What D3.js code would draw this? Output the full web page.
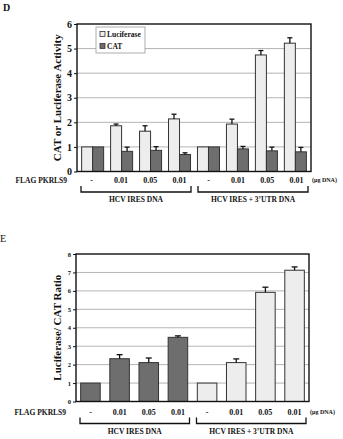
<!DOCTYPE html>
<html lang="en">
  <head>
    <meta charset="UTF-8" />
    <title>PKRLS9 luciferase / CAT</title>
    <script src="https://d3js.org/d3.v7.min.js"></script>
    <style>
      body {
        margin: 0;
        background: #fff;
      }
      text {
        font-family: 'Liberation Serif', 'Times New Roman', serif;
        font-weight: 700;
        fill: #111;
      }
      .grid line {
        stroke: #b4b4b4;
        stroke-width: 1px;
      }
      .frame {
        fill: none;
        stroke: #111;
        stroke-width: 1.4px;
      }
      .bar {
        stroke: #333;
        stroke-width: 1px;
      }
      .err {
        stroke: #111;
        stroke-width: 1.3px;
      }
      .bracket {
        fill: none;
        stroke: #111;
        stroke-width: 1.3px;
      }
    </style>
  </head>
  <body>
    <svg width="343" height="439"></svg>
    <script>
      // shared x categories
      const doseLabels = ['-', '0.01', '0.05', '0.01', '-', '0.01', '0.05', '0.01'];
      const groups = ['HCV IRES DNA', 'HCV IRES + 3\u2019UTR DNA'];
      const groupOf = [0, 0, 0, 0, 1, 1, 1, 1];

      // panel D
      const seriesD = ['Luciferase', 'CAT'];
      const lucValues = [1, 1.86, 1.64, 2.14, 1, 1.93, 4.74, 5.22];
      const lucErr = [0, 0.07, 0.22, 0.19, 0, 0.2, 0.18, 0.22];
      const catValues = [1, 0.82, 0.86, 0.69, 1, 0.92, 0.84, 0.8];
      const catErr = [0, 0.17, 0.15, 0.07, 0, 0.1, 0.15, 0.18];
      const ticksD = [0, 1, 2, 3, 4, 5, 6];

      // panel E
      const ratioValues = [1, 2.32, 2.11, 3.48, 1, 2.11, 5.92, 7.12];
      const ratioErr = [0, 0.22, 0.25, 0.08, 0, 0.2, 0.28, 0.18];
      const ticksE = [0, 1, 2, 3, 4, 5, 6, 7, 8];

      const lightFill = '#ededed';
      const darkFill = '#6e6e6e';

      const svg = d3.select('svg');
      const idx = d3.range(doseLabels.length);

      function drawFrame(p) {
        const x = d3.scaleBand().domain(idx).range([p.left, p.right]);
        const y = d3
          .scaleLinear()
          .domain([0, d3.max(p.ticks)])
          .range([p.bottom, p.top]);

        // gridlines
        svg
          .append('g')
          .attr('class', 'grid')
          .selectAll('line')
          .data(p.ticks.slice(1, -1))
          .join('line')
          .attr('x1', p.left)
          .attr('x2', p.right)
          .attr('y1', (d) => y(d))
          .attr('y2', (d) => y(d));

        // y axis
        const yAxis = svg
          .append('g')
          .attr('transform', `translate(${p.left},0)`)
          .call(
            d3
              .axisLeft(y)
              .tickValues(p.ticks)
              .tickFormat(d3.format('d'))
              .tickSize(3)
              .tickPadding(2)
          );
        yAxis.select('.domain').remove();
        yAxis.selectAll('line').attr('stroke', '#111');
        yAxis
          .selectAll('text')
          .style('font-family', "'Liberation Serif', serif")
          .style('font-weight', 700)
          .style('font-size', p.tickFont + 'px')
          .attr('fill', '#111');

        // axis title
        svg
          .append('text')
          .attr(
            'transform',
            `translate(${p.titleX},${(p.top + p.bottom) / 2}) rotate(-90)`
          )
          .attr('text-anchor', 'middle')
          .style('font-size', '11px')
          .text(p.title);

        // x labels
        const lab = svg.append('g');
        lab
          .selectAll('text.dose')
          .data(idx)
          .join('text')
          .attr('class', 'dose')
          .attr('x', (d) => x(d) + x.bandwidth() / 2)
          .attr('y', p.labelY)
          .attr('text-anchor', 'middle')
          .style('font-size', '8px')
          .text((d) => doseLabels[d]);
        lab
          .append('text')
          .attr('x', p.left - 10)
          .attr('y', p.labelY)
          .attr('text-anchor', 'end')
          .style('font-size', '7.5px')
          .text('FLAG PKRLS9');
        lab
          .append('text')
          .attr('x', p.right + 1)
          .attr('y', p.labelY - 1)
          .style('font-size', '6px')
          .text('(\u03bcg DNA)');

        // group brackets
        groups.forEach((gname, gi) => {
          const members = idx.filter((i) => groupOf[i] === gi);
          const x0 = x(members[0]) + 4;
          const x1 = x(members[members.length - 1]) + x.bandwidth() - 3;
          const by = p.labelY + 9;
          svg
            .append('path')
            .attr('class', 'bracket')
            .attr('d', `M${x0},${by - 6}V${by}H${x1}V${by - 6}`);
          svg
            .append('text')
            .attr('x', (x0 + x1) / 2)
            .attr('y', by + 10)
            .attr('text-anchor', 'middle')
            .style('font-size', '7.5px')
            .text(gname);
        });

        return { x, y };
      }

      function drawFrameBox(p) {
        svg
          .append('rect')
          .attr('class', 'frame')
          .attr('x', p.left)
          .attr('y', p.top)
          .attr('width', p.right - p.left)
          .attr('height', p.bottom - p.top);
      }

      function errBars(list, cap) {
        const g = svg.append('g');
        list.forEach((e) => {
          if (e.err <= 0) return;
          g.append('line')
            .attr('class', 'err')
            .attr('x1', e.cx)
            .attr('x2', e.cx)
            .attr('y1', e.y0)
            .attr('y2', e.y1);
          g.append('line')
            .attr('class', 'err')
            .attr('stroke-width', 2)
            .attr('x1', e.cx - cap)
            .attr('x2', e.cx + cap)
            .attr('y1', e.y1)
            .attr('y2', e.y1);
        });
      }

      // ---------- panel D ----------
      const pD = {
        left: 77,
        right: 311,
        top: 24,
        bottom: 171.5,
        ticks: ticksD,
        tickFont: 10,
        title: 'CAT or Luciferase Activity',
        titleX: 61,
        labelY: 183
      };
      const D = drawFrame(pD);
      D.x.paddingInner(0.24).paddingOuter(0.16);
      const sub = d3
        .scaleBand()
        .domain(seriesD)
        .range([0, D.x.bandwidth()]);
      const dRows = idx.flatMap((i) => [
        { i, s: 'Luciferase', v: lucValues[i], e: lucErr[i] },
        { i, s: 'CAT', v: catValues[i], e: catErr[i] }
      ]);
      svg
        .append('g')
        .selectAll('rect')
        .data(dRows)
        .join('rect')
        .attr('class', 'bar')
        .attr('x', (d) => D.x(d.i) + sub(d.s))
        .attr('width', sub.bandwidth())
        .attr('y', (d) => D.y(d.v))
        .attr('height', (d) => D.y(0) - D.y(d.v))
        .attr('fill', (d) => (d.s === 'CAT' ? darkFill : lightFill));
      errBars(
        dRows.map((d) => ({
          cx: D.x(d.i) + sub(d.s) + sub.bandwidth() / 2,
          y0: D.y(d.v),
          y1: D.y(d.v + d.e),
          err: d.e
        })),
        2.5
      );
      drawFrameBox(pD);

      // legend
      const leg = svg.append('g').attr('transform', 'translate(96,27)');
      leg
        .append('rect')
        .attr('width', 49)
        .attr('height', 26)
        .attr('fill', '#fff')
        .attr('stroke', '#9a9a9a')
        .attr('stroke-width', 0.8);
      seriesD.forEach((s, k) => {
        leg
          .append('rect')
          .attr('x', 4)
          .attr('y', 4.5 + k * 12)
          .attr('width', 5)
          .attr('height', 5)
          .attr('fill', s === 'CAT' ? darkFill : lightFill)
          .attr('stroke', '#333')
          .attr('stroke-width', 0.8);
        leg
          .append('text')
          .attr('x', 11)
          .attr('y', 9.5 + k * 12)
          .style('font-size', '7.5px')
          .text(s);
      });

      // panel letter
      svg
        .append('text')
        .attr('x', 3)
        .attr('y', 11)
        .style('font-size', '10px')
        .text('D');

      // ---------- panel E ----------
      const pE = {
        left: 76,
        right: 309,
        top: 254,
        bottom: 401.5,
        ticks: ticksE,
        tickFont: 6.5,
        title: 'Luciferase/ CAT Ratio',
        titleX: 61,
        labelY: 414.5
      };
      const E = drawFrame(pE);
      E.x.paddingInner(0.33).paddingOuter(0.16);
      svg
        .append('g')
        .selectAll('rect')
        .data(idx)
        .join('rect')
        .attr('class', 'bar')
        .attr('x', (i) => E.x(i))
        .attr('width', E.x.bandwidth())
        .attr('y', (i) => E.y(ratioValues[i]))
        .attr('height', (i) => E.y(0) - E.y(ratioValues[i]))
        .attr('fill', (i) => (groupOf[i] === 0 ? darkFill : lightFill));
      errBars(
        idx.map((i) => ({
          cx: E.x(i) + E.x.bandwidth() / 2,
          y0: E.y(ratioValues[i]),
          y1: E.y(ratioValues[i] + ratioErr[i]),
          err: ratioErr[i]
        })),
        3
      );
      drawFrameBox(pE);

      svg
        .append('text')
        .attr('x', 0)
        .attr('y', 242)
        .style('font-size', '10px')
        .style('font-weight', 400)
        .text('E');
    </script>
  </body>
</html>
